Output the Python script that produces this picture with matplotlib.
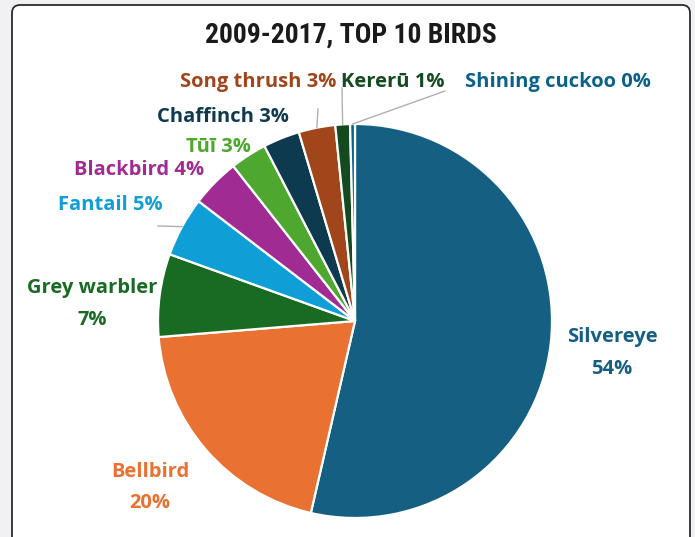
import numpy as np
import matplotlib
matplotlib.use("Agg")
import matplotlib.pyplot as plt
from matplotlib import font_manager as fm
from matplotlib.patches import FancyBboxPatch

W, H = 695, 537

birds = ["Silvereye", "Bellbird", "Grey warbler", "Fantail", "Blackbird",
         "Tūī", "Chaffinch", "Song thrush", "Kererū", "Shining cuckoo"]
shares = [53.6, 20.1, 6.8, 4.9, 4.0, 3.0, 3.0, 3.0, 1.2, 0.4]
colors = ["#156082", "#E97132", "#196B24", "#0F9ED5", "#A02B93",
          "#4EA72E", "#0D3A4E", "#A0461A", "#134A1F", "#0B6288"]
title = "2009-2017, TOP 10 BIRDS"

# label layout: centre x and baseline y (pixels from top); wrapped labels
# get a second baseline for the percentage line
label_x = [612, 150, 92, 110, 139, 218, 223, 258, 393, 558]
label_base = [342, 477, 293, 210, 175, 152, 122, 87, 87, 87]
pct_base = [374, 508, 325, None, None, None, None, None, None, None]
# leader line end points for the small slices
leaders = {3: (158, 226), 7: (318, 109), 8: (342, 88), 9: (445, 91)}


def pick_font(cands, fallback):
    names = {f.name for f in fm.fontManager.ttflist}
    for cand in cands:
        if cand in names:
            return cand
    return fallback


title_font = pick_font(["Roboto Condensed", "Open Sans Condensed",
                        "Liberation Sans Narrow"], "Roboto")
label_font = pick_font(["Open Sans", "Noto Sans"], "DejaVu Sans")

fig = plt.figure(figsize=(W / 100, H / 100), dpi=100, facecolor="#f1f1f3")
ax = fig.add_axes([0, 0, 1, 1])
ax.set_facecolor("none")
renderer = fig.canvas.get_renderer()


def fit_size(text, target_w, max_size, family, weight):
    t = fig.text(0, 0, text, fontsize=max_size, fontweight=weight,
                 family=[family, "DejaVu Sans"])
    w = t.get_window_extent(renderer).width
    t.remove()
    return min(max_size, max_size * target_w / w)


label_size = fit_size("Song thrush 3%", 157, 14.5, label_font, "bold")
title_size = fit_size(title, 292, 21, title_font, "bold")

frame = FancyBboxPatch((12, 5), 678, 545, boxstyle="round,pad=0,rounding_size=8",
                       fc="white", ec="#2b2b2b", lw=1.3, zorder=0)
ax.add_patch(frame)

center = (355, 321)
radius = 197
wedges, _ = ax.pie(shares, colors=colors, startangle=-90, counterclock=True,
                   center=center, radius=radius, frame=True,
                   wedgeprops=dict(edgecolor="white", linewidth=1.6))

lab_kw = dict(ha="center", va="baseline", fontsize=label_size,
              fontweight="bold", family=[label_font, "DejaVu Sans"], zorder=5)
for i, (name, val) in enumerate(zip(birds, shares)):
    pct = f"{round(val):d}%"
    if pct_base[i] is None:
        ax.text(label_x[i], label_base[i], f"{name} {pct}", color=colors[i], **lab_kw)
    else:
        ax.text(label_x[i], label_base[i], name, color=colors[i], **lab_kw)
        ax.text(label_x[i], pct_base[i], pct, color=colors[i], **lab_kw)
    if i in leaders:
        w = wedges[i]
        mid = np.deg2rad((w.theta1 + w.theta2) / 2)
        ex = center[0] + radius * np.cos(mid)
        ey = center[1] + radius * np.sin(mid)
        lx, ly = leaders[i]
        ax.plot([ex, lx], [ey, ly], color="#b0b0b0", lw=1.0, zorder=4)

ax.text(351, 43, title, ha="center", va="baseline", color="#1a1a1a",
        fontsize=title_size, fontweight="bold", family=[title_font, "DejaVu Sans"])

ax.set_xlim(0, W)
ax.set_ylim(H, 0)
ax.axis("off")

fig.savefig("out.png", dpi=100, facecolor=fig.get_facecolor())
